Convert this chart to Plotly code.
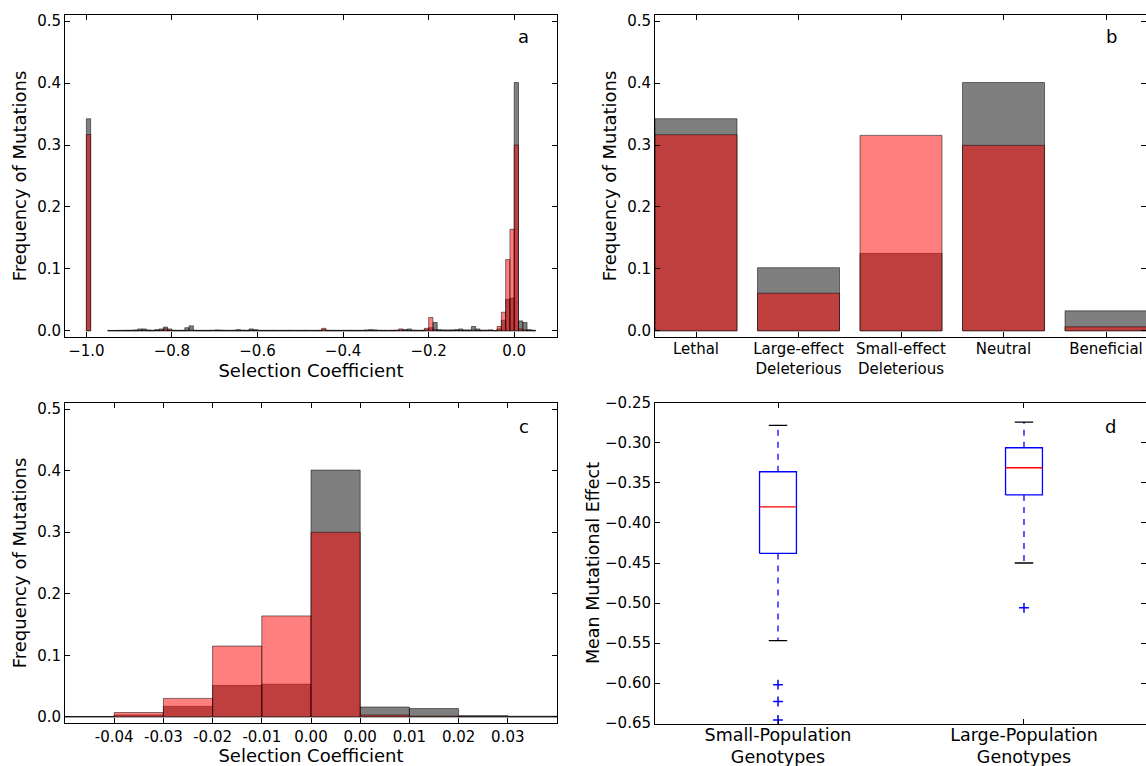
import numpy as np
import plotly.graph_objects as go

# ---------------- data ----------------
# Panel a / c : frequency of mutations per selection-coefficient bin (bin width 0.01)
lethal_s = [-1.0]
lethal_gray = [0.3425]
lethal_red = [0.317]

# bins with left edges -0.95 ... -0.06 (large-effect deleterious region)
large_gray = [
    0.0006, 0.0006, 0.0008, 0.0008, 0.001, 0.001, 0.0015, 0.003, 0.003, 0.0015,
    0.001, 0.002, 0.003, 0.006, 0.003, 0.001, 0.0008, 0.001, 0.005, 0.008,
    0.001, 0.0008, 0.0008, 0.001, 0.001, 0.0015, 0.0012, 0.001, 0.0008, 0.001,
    0.002, 0.0012, 0.001, 0.003, 0.002, 0.001, 0.0008, 0.0008, 0.001, 0.0008,
    0.0008, 0.0008, 0.001, 0.0008, 0.0008, 0.0008, 0.001, 0.0008, 0.0008, 0.001,
    0.002, 0.001, 0.0008, 0.0008, 0.0008, 0.0008, 0.001, 0.0008, 0.0008, 0.0008,
    0.0015, 0.002, 0.0015, 0.001, 0.001, 0.0008, 0.001, 0.0012, 0.0015, 0.002,
    0.003, 0.0012, 0.001, 0.001, 0.002, 0.005, 0.0135, 0.002, 0.0015, 0.0015,
    0.0015, 0.002, 0.003, 0.0015, 0.0015, 0.007, 0.003, 0.0012, 0.0012, 0.0015,
]
large_red = [
    0.0003, 0.0003, 0.0003, 0.0003, 0.0003, 0.0003, 0.0003, 0.0005, 0.001, 0.0003,
    0.0003, 0.0005, 0.001, 0.003, 0.0005, 0.0003, 0.0003, 0.0003, 0.0005, 0.001,
    0.0003, 0.0003, 0.0003, 0.0003, 0.0003, 0.0003, 0.0003, 0.0003, 0.0003, 0.0003,
    0.0003, 0.0003, 0.0003, 0.001, 0.0003, 0.0003, 0.0003, 0.0003, 0.0003, 0.0003,
    0.0003, 0.0003, 0.0003, 0.0003, 0.0003, 0.0003, 0.0003, 0.0003, 0.0003, 0.0003,
    0.004, 0.0005, 0.0003, 0.0003, 0.0003, 0.0003, 0.0003, 0.0003, 0.0003, 0.0003,
    0.0003, 0.0003, 0.0003, 0.0003, 0.0003, 0.0003, 0.0003, 0.0003, 0.003, 0.0005,
    0.0005, 0.0003, 0.0003, 0.0003, 0.004, 0.0215, 0.002, 0.0003, 0.0003, 0.0003,
    0.0003, 0.0003, 0.0003, 0.0003, 0.0003, 0.001, 0.0003, 0.0003, 0.0005, 0.001,
]
# bins with left edges -0.05 ... 0.04 (shown again, enlarged, in panel c)
near_gray = [0.0005, 0.003, 0.017, 0.051, 0.053, 0.401, 0.016, 0.0135, 0.002, 0.001]
near_red = [0.0003, 0.007, 0.030, 0.115, 0.164, 0.300, 0.003, 0.0012, 0.0004, 0.0003]
panel_c_ticktext = ["-0.04", "-0.03", "-0.02", "-0.01", "0.00", "0.00", "0.01", "0.02", "0.03"]

# Panel b : mutation classes
categories_b = ["Lethal", "Large-effect<br>Deleterious", "Small-effect<br>Deleterious",
                "Neutral", "Beneficial"]
gray_b = [0.3425, 0.102, 0.125, 0.401, 0.0322]
red_b = [0.3167, 0.0607, 0.3156, 0.2995, 0.0064]

# Panel d : box plot summary of mean mutational effect
groups_d = ["Small-Population<br>Genotypes", "Large-Population<br>Genotypes"]
upper_d = [-0.278, -0.274]
q3_d = [-0.336, -0.306]
median_d = [-0.380, -0.331]
q1_d = [-0.438, -0.365]
lower_d = [-0.547, -0.450]
outliers_d = [[-0.602, -0.623, -0.646], [-0.506]]

# ---------------- figure ----------------
W, H = 1146, 766
GRAY = "rgba(0,0,0,0.5)"
RED = "rgba(255,0,0,0.5)"
EDGE = "rgba(0,0,0,0.5)"
FONT = "DejaVu Sans"

fig = go.Figure()

# panel a
bin_left_a = np.round(np.arange(-0.95, 0.05, 0.01), 2)
gray_a = lethal_gray + large_gray + near_gray
red_a = lethal_red + large_red + near_red
x_a = list(lethal_s) + list(bin_left_a)
fig.add_trace(go.Bar(x=x_a, y=gray_a, width=0.01, offset=0, marker=dict(color=GRAY, line=dict(color=EDGE, width=1)),
                     xaxis="x", yaxis="y"))
fig.add_trace(go.Bar(x=x_a, y=red_a, width=0.01, offset=0, marker=dict(color=RED, line=dict(color=EDGE, width=1)),
                     xaxis="x", yaxis="y"))

# panel b
fig.add_trace(go.Bar(x=categories_b, y=gray_b, width=0.8, marker=dict(color=GRAY, line=dict(color=EDGE, width=1)),
                     xaxis="x2", yaxis="y2"))
fig.add_trace(go.Bar(x=categories_b, y=red_b, width=0.8, marker=dict(color=RED, line=dict(color=EDGE, width=1)),
                     xaxis="x2", yaxis="y2"))

# panel c
bin_idx_c = np.arange(len(near_gray))
fig.add_trace(go.Bar(x=bin_idx_c, y=near_gray, width=1, offset=0,
                     marker=dict(color=GRAY, line=dict(color=EDGE, width=1)), xaxis="x3", yaxis="y3"))
fig.add_trace(go.Bar(x=bin_idx_c, y=near_red, width=1, offset=0,
                     marker=dict(color=RED, line=dict(color=EDGE, width=1)), xaxis="x3", yaxis="y3"))

# panel d (matplotlib-style box plot)
hb, hc = 0.075, 0.0375
for i in range(len(groups_d)):
    p = i + 1
    common = dict(xaxis="x4", yaxis="y4", mode="lines", hoverinfo="skip", cliponaxis=False)
    # whiskers (dashed)
    fig.add_trace(go.Scatter(x=[p, p], y=[q3_d[i], upper_d[i]], line=dict(color="blue", width=1.3, dash="6px,6px"), **common))
    fig.add_trace(go.Scatter(x=[p, p], y=[q1_d[i], lower_d[i]], line=dict(color="blue", width=1.3, dash="6px,6px"), **common))
    # caps
    fig.add_trace(go.Scatter(x=[p - hc, p + hc], y=[upper_d[i]] * 2, line=dict(color="black", width=1.3), **common))
    fig.add_trace(go.Scatter(x=[p - hc, p + hc], y=[lower_d[i]] * 2, line=dict(color="black", width=1.3), **common))
    # box
    fig.add_trace(go.Scatter(x=[p - hb, p + hb, p + hb, p - hb, p - hb],
                             y=[q1_d[i], q1_d[i], q3_d[i], q3_d[i], q1_d[i]],
                             line=dict(color="blue", width=1.3), **common))
    # median
    fig.add_trace(go.Scatter(x=[p - hb, p + hb], y=[median_d[i]] * 2, line=dict(color="red", width=1.3), **common))
    # outliers
    fig.add_trace(go.Scatter(x=[p] * len(outliers_d[i]), y=outliers_d[i], mode="markers", xaxis="x4", yaxis="y4",
                             cliponaxis=False, hoverinfo="skip",
                             marker=dict(symbol="cross-thin", size=7, line=dict(color="blue", width=1.5))))

def px(v):
    return v / W

def py(v):
    return 1 - v / H

ax_common = dict(showline=True, linecolor="black", linewidth=1, mirror="ticks", ticks="inside",
                 ticklen=5, tickcolor="black", tickwidth=1, showgrid=False, zeroline=False,
                 automargin=False, tickfont=dict(family=FONT, size=15, color="black"))
title_font = dict(family=FONT, size=18, color="black")

dom_left = [px(65), px(557)]
dom_right = [px(655), 1.0]
dom_top = [py(337), py(15)]
dom_bot = [py(723), py(403)]

yfreq = dict(range=[-0.01, 0.51], tick0=0, dtick=0.1, tickformat=".1f")

fig.update_layout(
    width=W, height=H, margin=dict(l=0, r=0, t=0, b=0), template="none",
    paper_bgcolor="white", plot_bgcolor="white", barmode="overlay", showlegend=False,
    font=dict(family=FONT, size=15, color="black"),
    xaxis=dict(domain=dom_left, anchor="y", range=[-1.05, 0.1], tick0=0, dtick=0.2, tickformat=".1f",
               title=dict(text="Selection Coefficient", font=title_font, standoff=0), **ax_common),
    yaxis=dict(domain=dom_top, anchor="x", **yfreq,
               title=dict(text="Frequency of Mutations", font=title_font, standoff=5), **ax_common),
    xaxis2=dict(domain=dom_right, anchor="y2", type="category", range=[-0.4, 4.39], ticklabelstandoff=-2,
                **ax_common),
    yaxis2=dict(domain=dom_top, anchor="x2", **yfreq,
                title=dict(text="Frequency of Mutations", font=title_font, standoff=5), **ax_common),
    xaxis3=dict(domain=dom_left, anchor="y3", range=[0, 10], tickvals=list(range(1, 10)),
                ticktext=panel_c_ticktext,
                title=dict(text="Selection Coefficient", font=title_font, standoff=0), **ax_common),
    yaxis3=dict(domain=dom_bot, anchor="x3", **yfreq,
                title=dict(text="Frequency of Mutations", font=title_font, standoff=5), **ax_common),
    xaxis4=dict(domain=dom_right, anchor="y4", range=[0.5, 2.496], tickvals=[1, 2], ticktext=groups_d,
                ticklabelstandoff=-5,
                **{k: v for k, v in ax_common.items() if k != "tickfont"},
                tickfont=dict(family=FONT, size=17.5, color="black")),
    yaxis4=dict(domain=[py(723.5), py(402.5)], anchor="x4", range=[-0.6505, -0.2495], tick0=-0.25, dtick=0.05,
                tickformat=".2f",
                title=dict(text="Mean Mutational Effect", font=dict(family=FONT, size=17.5, color="black"), standoff=0),
                **ax_common),
)

letters = [("a", 523, 37), ("b", 1111, 37), ("c", 524, 427), ("d", 1110, 427)]
for t, x, y in letters:
    fig.add_annotation(text=t, x=px(x), y=py(y), xref="paper", yref="paper", showarrow=False,
                       xanchor="center", yanchor="middle", font=dict(family=FONT, size=18, color="black"))

fig.write_html("out.html", config={"displayModeBar": False},
               post_script="document.body.style.margin='0px';document.body.style.overflow='hidden';")
